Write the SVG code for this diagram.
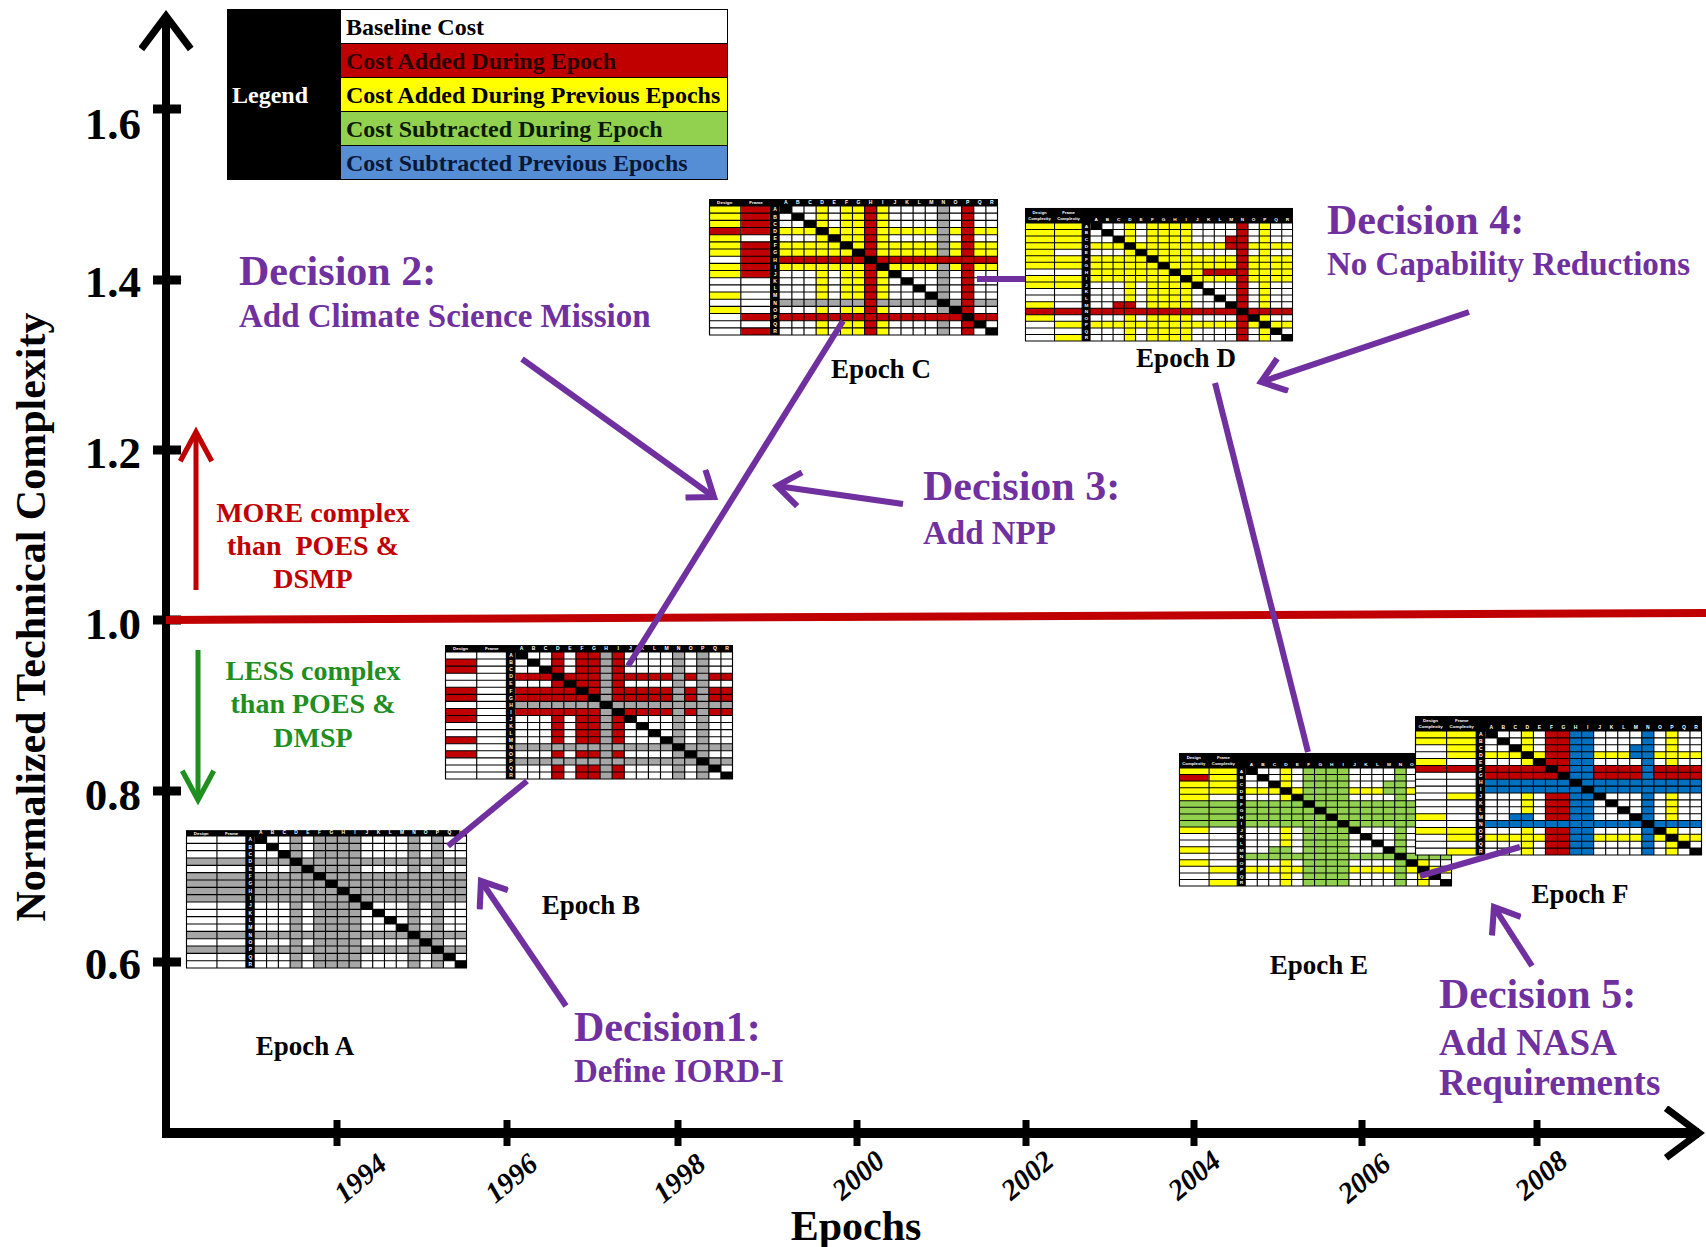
<svg xmlns="http://www.w3.org/2000/svg" xmlns:xlink="http://www.w3.org/1999/xlink" width="1706" height="1247" viewBox="0 0 1706 1247">
<style>
text{font-family:"Liberation Serif","Times New Roman",serif;font-weight:bold}
.ml{font-family:"Liberation Sans",Arial,sans-serif;font-size:5px;fill:#fff;text-anchor:middle}
.mh{font-family:"Liberation Sans",Arial,sans-serif;font-size:4.5px;fill:#fff;text-anchor:middle}
.gl{fill:none;stroke:#000;stroke-width:1.15}
.cr{fill:#c00000}.cy{fill:#ffff00}.cg{fill:#92d050}.cb{fill:#0070c0}.ck{fill:#a6a6a6}
.ep{font-size:27px;text-anchor:middle;fill:#000}
.dh{font-size:42px;fill:#7030a0}
.ds{font-size:33px;fill:#7030a0}
.d5{font-size:37px;fill:#7030a0}
.tk{font-size:45px;text-anchor:end;fill:#000}
.yr{font-size:29px;font-style:italic;text-anchor:middle;fill:#000}
.lg{font-size:24px}
.pl{stroke:#7030a0;stroke-width:6;fill:none}
.pa{stroke:#7030a0;stroke-width:6;fill:none;marker-end:url(#hp)}
</style>
<defs>
<marker id="hk" viewBox="0 0 20 20" refX="17" refY="10" markerUnits="userSpaceOnUse" markerWidth="55" markerHeight="55" orient="auto-start-reverse"><path d="M5 1 L17 10 L5 19" fill="none" stroke="#000" stroke-width="2.6"/></marker>
<marker id="hp" viewBox="0 0 20 20" refX="17" refY="10" markerUnits="userSpaceOnUse" markerWidth="38" markerHeight="38" orient="auto"><path d="M5 1 L17 10 L5 19" fill="none" stroke="#7030a0" stroke-width="3.2"/></marker>
<marker id="hr" viewBox="0 0 20 20" refX="17" refY="10" markerUnits="userSpaceOnUse" markerWidth="45" markerHeight="45" orient="auto"><path d="M4 3 L17 10 L4 17" fill="none" stroke="#c00000" stroke-width="2.3"/></marker>
<marker id="hg" viewBox="0 0 20 20" refX="17" refY="10" markerUnits="userSpaceOnUse" markerWidth="45" markerHeight="45" orient="auto"><path d="M4 3 L17 10 L4 17" fill="none" stroke="#1f8f1f" stroke-width="2.3"/></marker>
<g id="mtx">
<path fill="#000" d="M70 0h12v7.5h-12z M82 7.5h12v7.5h-12z M94 15h12v7.5h-12z M106 22.5h12v7.5h-12z M118 30h12v7.5h-12z M130 37.5h12v7.5h-12z M142 45h12v7.5h-12z M154 52.5h12v7.5h-12z M166 60h12v7.5h-12z M178 67.5h12v7.5h-12z M190 75h12v7.5h-12z M202 82.5h12v7.5h-12z M214 90h12v7.5h-12z M226 97.5h12v7.5h-12z M238 105h12v7.5h-12z M250 112.5h12v7.5h-12z M262 120h12v7.5h-12z M274 127.5h12v7.5h-12z"/>
<rect x="61" y="0" width="9" height="135" fill="#000"/>
<path class="gl" d="M0 0H286M0 7.5H286M0 15H286M0 22.5H286M0 30H286M0 37.5H286M0 45H286M0 52.5H286M0 60H286M0 67.5H286M0 75H286M0 82.5H286M0 90H286M0 97.5H286M0 105H286M0 112.5H286M0 120H286M0 127.5H286M0 135H286M0.5 0V135M31.5 0V135M61 0V135M82 0V135M94 0V135M106 0V135M118 0V135M130 0V135M142 0V135M154 0V135M166 0V135M178 0V135M190 0V135M202 0V135M214 0V135M226 0V135M238 0V135M250 0V135M262 0V135M274 0V135M285.5 0V135"/>
<text class="ml" x="76 88 100 112 124 136 148 160 172 184 196 208 220 232 244 256 268 280" y="-1.8">ABCDEFGHIJKLMNOPQR</text>
<text class="ml" x="65.5 65.5 65.5 65.5 65.5 65.5 65.5 65.5 65.5 65.5 65.5 65.5 65.5 65.5 65.5 65.5 65.5 65.5" y="5.6 13.1 20.6 28.1 35.6 43.1 50.6 58.1 65.6 73.1 80.6 88.1 95.6 103.1 110.6 118.1 125.6 133.1">ABCDEFGHIJKLMNOPQR</text>
</g>
</defs>
<rect width="1706" height="1247" fill="#fff"/>

<g id="axes">
<path d="M166 1137 V16" fill="none" stroke="#000" stroke-width="8" marker-end="url(#hk)"/>
<path d="M162 1133 H1699" fill="none" stroke="#000" stroke-width="10" marker-end="url(#hk)"/>
<path d="M153 109H181M153 280H181M153 450H181M153 620H181M153 791H181M153 962H181" stroke="#000" stroke-width="9"/>
<path d="M337 1120V1146M507 1120V1146M678 1120V1146M857 1120V1146M1026 1120V1146M1194 1120V1146M1362 1120V1146M1537 1120V1146" stroke="#000" stroke-width="7"/>
<text class="tk" x="141" y="139">1.6</text>
<text class="tk" x="141" y="297">1.4</text>
<text class="tk" x="141" y="468">1.2</text>
<text class="tk" x="141" y="639">1.0</text>
<text class="tk" x="141" y="810">0.8</text>
<text class="tk" x="141" y="979">0.6</text>
<text transform="translate(45,617) rotate(-90)" text-anchor="middle" font-size="42">Normalized Technical Complexity</text>
<text class="yr" transform="translate(360,1178) rotate(-40)" y="10">1994</text>
<text class="yr" transform="translate(511,1178) rotate(-40)" y="10">1996</text>
<text class="yr" transform="translate(679,1178) rotate(-40)" y="10">1998</text>
<text class="yr" transform="translate(858,1175) rotate(-40)" y="10">2000</text>
<text class="yr" transform="translate(1027,1175) rotate(-40)" y="10">2002</text>
<text class="yr" transform="translate(1194,1175) rotate(-40)" y="10">2004</text>
<text class="yr" transform="translate(1364,1178) rotate(-40)" y="10">2006</text>
<text class="yr" transform="translate(1541,1175) rotate(-40)" y="10">2008</text>
<text x="856" y="1240" text-anchor="middle" font-size="42">Epochs</text>
</g>

<g id="legend">
<rect x="227" y="9" width="501" height="171" fill="#000"/>
<rect x="341" y="10" width="386" height="33" fill="#fff"/>
<rect x="341" y="44" width="386" height="33" fill="#c00000"/>
<rect x="341" y="78" width="386" height="33" fill="#ffff00"/>
<rect x="341" y="112" width="386" height="33" fill="#92d050"/>
<rect x="341" y="146" width="386" height="33" fill="#558ed5"/>
<text class="lg" x="232" y="103" fill="#fff">Legend</text>
<text class="lg" x="346" y="35" fill="#000">Baseline Cost</text>
<text class="lg" x="346" y="69" fill="#2a0000">Cost Added During Epoch</text>
<text class="lg" x="346" y="103" fill="#000">Cost Added During Previous Epochs</text>
<text class="lg" x="346" y="137" fill="#0a1a00">Cost Subtracted During Epoch</text>
<text class="lg" x="346" y="171" fill="#0a1838">Cost Subtracted Previous Epochs</text>
</g>

<g id="baseline-1-0">
<path d="M166 620 L1706 613" stroke="#c00000" stroke-width="8" fill="none"/>
</g>

<g id="more-complex">
<path d="M196 590 V432" stroke="#c00000" stroke-width="5" fill="none" marker-end="url(#hr)"/>
<text x="313" y="522" text-anchor="middle" font-size="28" fill="#c00000">MORE complex</text>
<text x="313" y="555" text-anchor="middle" font-size="28" fill="#c00000" xml:space="preserve">than  POES &amp;</text>
<text x="313" y="588" text-anchor="middle" font-size="28" fill="#c00000">DSMP</text>
</g>
<g id="less-complex">
<path d="M198 650 V800" stroke="#1f8f1f" stroke-width="5" fill="none" marker-end="url(#hg)"/>
<text x="313" y="680" text-anchor="middle" font-size="28" fill="#1f8f1f">LESS complex</text>
<text x="313" y="713" text-anchor="middle" font-size="28" fill="#1f8f1f">than POES &amp;</text>
<text x="313" y="747" text-anchor="middle" font-size="28" fill="#1f8f1f">DMSP</text>
</g>

<g id="epoch-a">
<g transform="translate(186,836) scale(0.9825,0.978)">
<rect x="0" y="0" width="286" height="135" fill="#fff"/>
<path class="ck" d="M106 0h12v135h-12z M130 0h48v135h-48z M226 0h12v135h-12z M250 0h12v135h-12z M0 22.5h286v7.5h-286z M0 37.5h286v30h-286z M0 97.5h286v7.5h-286z M0 112.5h286v7.5h-286z"/>
<rect x="0" y="-6" width="286" height="6" fill="#000"/>
<text class="mh" x="15.5" y="-1.4">Design</text><text class="mh" x="46.5" y="-1.4">Frame</text>
<use href="#mtx" xlink:href="#mtx"/>
</g>
<text class="ep" x="305" y="1055">Epoch A</text>
</g>

<g id="epoch-b">
<g transform="translate(445,652) scale(1.007,0.941)">
<rect x="0" y="0" width="286" height="135" fill="#fff"/>
<path class="cr" d="M106 0h12v135h-12z M130 0h24v135h-24z M166 0h12v135h-12z M70 22.5h216v7.5h-216z M70 37.5h216v15h-216z M70 60h216v7.5h-216z M0 7.5h31v15h-31z M0 37.5h31v15h-31z M0 60h31v15h-31z M0 90h31v7.5h-31z M0 105h31v7.5h-31z"/>
<path class="ck" d="M154 0h12v135h-12z M226 0h12v135h-12z M250 0h12v135h-12z M70 52.5h216v7.5h-216z M70 97.5h216v7.5h-216z M70 112.5h216v7.5h-216z"/>
<rect x="0" y="-7.4" width="286" height="7.4" fill="#000"/>
<text class="mh" x="15.5" y="-1.8">Design</text><text class="mh" x="46.5" y="-1.8">Frame</text>
<use href="#mtx" xlink:href="#mtx"/>
</g>
<text class="ep" x="591" y="914">Epoch B</text>
</g>

<g id="epoch-c">
<g transform="translate(709,206) scale(1.0105,0.956)">
<rect x="0" y="0" width="286" height="135" fill="#fff"/>
<path class="cy" d="M106 0h12v135h-12z M130 0h24v135h-24z M166 0h12v135h-12z M70 22.5h216v7.5h-216z M70 37.5h216v15h-216z M70 60h216v7.5h-216z M0 0h31v22.5h-31z M0 30h31v22.5h-31z M0 60h31v15h-31z M0 90h31v7.5h-31z M0 105h31v7.5h-31z"/>
<path class="ck" d="M226 0h12v135h-12z M70 97.5h216v7.5h-216z"/>
<path class="cr" d="M154 0h12v135h-12z M250 0h12v135h-12z M70 52.5h216v7.5h-216z M70 112.5h216v7.5h-216z M0 22.5h31v7.5h-31z M32 0h29v30h-29z M32 37.5h29v37.5h-29z M32 112.5h29v7.5h-29z M32 127.5h29v7.5h-29z"/>
<rect x="0" y="-7.3" width="286" height="7.3" fill="#000"/>
<text class="mh" x="15.5" y="-1.8">Design</text><text class="mh" x="46.5" y="-1.8">Frame</text>
<use href="#mtx" xlink:href="#mtx"/>
</g>
<text class="ep" x="881" y="378">Epoch C</text>
</g>

<g id="epoch-d">
<g transform="translate(1025,223) scale(0.937,0.874)">
<rect x="0" y="0" width="286" height="135" fill="#fff"/>
<path class="cy" d="M106 0h12v135h-12z M130 0h48v135h-48z M250 0h12v135h-12z M70 22.5h216v7.5h-216z M70 37.5h216v30h-216z M70 112.5h216v7.5h-216z M0 0h31v52.5h-31z M0 60h31v15h-31z M0 90h31v7.5h-31z M0 105h31v7.5h-31z M32 0h29v30h-29z M32 37.5h29v15h-29z M32 60h29v15h-29z M32 112.5h29v7.5h-29z M32 127.5h29v7.5h-29z"/>
<path class="cr" d="M226 0h12v135h-12z M0 97.5h286v7.5h-286z M214 15h12v15h-12z M190 52.5h36v7.5h-36z M94 90h24v7.5h-24z"/>
<rect x="0" y="-17.2" width="286" height="17.2" fill="#000"/>
<text class="mh" x="15.5" y="-10">Design</text><text class="mh" x="15.5" y="-3.5">Complexity</text>
<text class="mh" x="46.5" y="-10">Frame</text><text class="mh" x="46.5" y="-3.5">Complexity</text>
<use href="#mtx" xlink:href="#mtx"/>
</g>
<text class="ep" x="1186" y="367">Epoch D</text>
</g>

<g id="epoch-e">
<g transform="translate(1179,768) scale(0.9545,0.874)">
<rect x="0" y="0" width="286" height="135" fill="#fff"/>
<path class="cy" d="M106 0h12v135h-12z M250 0h12v135h-12z M70 22.5h216v7.5h-216z M70 112.5h216v7.5h-216z M0 0h31v7.5h-31z M0 15h31v22.5h-31z M0 67.5h31v7.5h-31z M0 90h31v7.5h-31z M0 105h31v7.5h-31z M32 0h29v30h-29z M32 112.5h29v7.5h-29z M32 127.5h29v7.5h-29z"/>
<path class="cr" d="M0 7.5h31v7.5h-31z"/>
<path class="cg" d="M130 0h48v135h-48z M226 0h12v135h-12z M0 37.5h286v30h-286z M70 97.5h216v7.5h-216z M214 15h12v15h-12z M94 90h24v7.5h-24z"/>
<rect x="0" y="-17.2" width="286" height="17.2" fill="#000"/>
<text class="mh" x="15.5" y="-10">Design</text><text class="mh" x="15.5" y="-3.5">Complexity</text>
<text class="mh" x="46.5" y="-10">Frame</text><text class="mh" x="46.5" y="-3.5">Complexity</text>
<use href="#mtx" xlink:href="#mtx"/>
</g>
<text class="ep" x="1319" y="974">Epoch E</text>
</g>

<g id="epoch-f">
<g transform="translate(1415,731) scale(1.0035,0.9185)">
<rect x="0" y="0" width="286" height="135" fill="#fff"/>
<path class="cy" d="M106 0h12v135h-12z M250 0h12v135h-12z M70 22.5h216v7.5h-216z M70 112.5h216v7.5h-216z M0 0h31v15h-31z M0 30h31v7.5h-31z M0 90h31v7.5h-31z M0 105h31v7.5h-31z M32 0h29v30h-29z M32 67.5h29v7.5h-29z M32 105h29v15h-29z M32 127.5h29v7.5h-29z"/>
<path class="cr" d="M130 0h24v135h-24z M0 37.5h286v7.5h-286z M70 45h216v7.5h-216z"/>
<path class="cb" d="M154 0h24v135h-24z M226 0h12v135h-12z M70 52.5h216v15h-216z M70 97.5h216v7.5h-216z M214 15h12v15h-12z M94 90h24v7.5h-24z"/>
<rect x="0" y="-16.3" width="286" height="16.3" fill="#000"/>
<text class="mh" x="15.5" y="-9.5">Design</text><text class="mh" x="15.5" y="-3.2">Complexity</text>
<text class="mh" x="46.5" y="-9.5">Frame</text><text class="mh" x="46.5" y="-3.2">Complexity</text>
<use href="#mtx" xlink:href="#mtx"/>
</g>
<text class="ep" x="1580" y="903">Epoch F</text>
</g>

<g id="connectors">
<path class="pl" d="M448 846 L527 781"/>
<path class="pl" d="M628 666 L843 321"/>
<path class="pl" d="M977 279 L1025 279"/>
<path class="pl" d="M1215 383 L1308 752"/>
<path class="pl" d="M1420 876 L1520 847"/>
<path class="pa" d="M522 359 L714 497"/>
<path class="pa" d="M903 504 L777 486"/>
<path class="pa" d="M1469 312 L1261 382"/>
<path class="pa" d="M566 1006 L481 881"/>
<path class="pa" d="M1532 966 L1494 907"/>
</g>

<g id="decision-1">
<text class="dh" x="574" y="1041">Decision1:</text>
<text class="ds" x="574" y="1082">Define IORD-I</text>
</g>
<g id="decision-2">
<text class="dh" x="239" y="285">Decision 2:</text>
<text class="ds" x="239" y="327">Add Climate Science Mission</text>
</g>
<g id="decision-3">
<text class="dh" x="923" y="500">Decision 3:</text>
<text class="ds" x="923" y="544">Add NPP</text>
</g>
<g id="decision-4">
<text class="dh" x="1327" y="234">Decision 4:</text>
<text class="ds" x="1327" y="275">No Capability Reductions</text>
</g>
<g id="decision-5">
<text class="dh" x="1439" y="1008">Decision 5:</text>
<text class="d5" x="1439" y="1055">Add NASA</text>
<text class="d5" x="1439" y="1095">Requirements</text>
</g>
</svg>
